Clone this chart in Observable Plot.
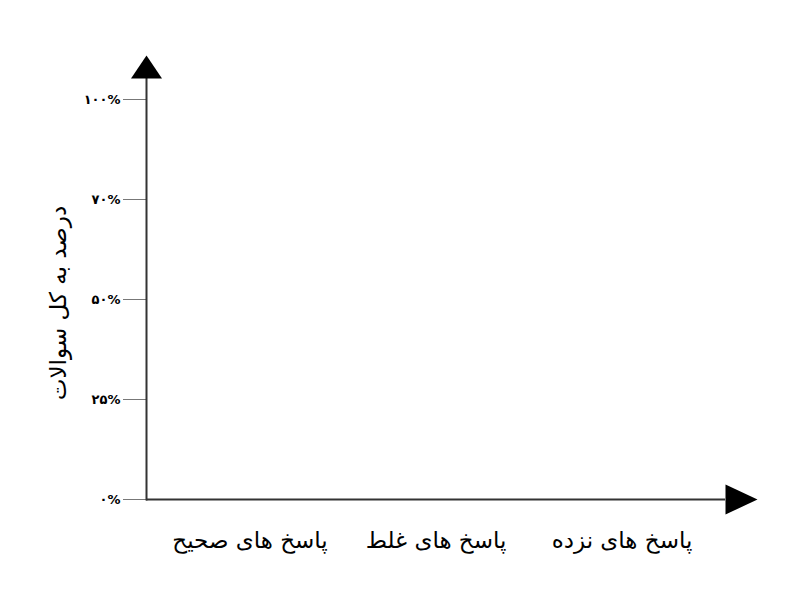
<!DOCTYPE html>
<html><head><meta charset="utf-8">
<script src="https://cdn.jsdelivr.net/npm/d3@7"></script>
<script src="https://cdn.jsdelivr.net/npm/@observablehq/plot@0.6"></script>
<style>body{margin:0;background:#fff} svg{font-family:"DejaVu Sans"}</style>
</head><body><div id="chart"></div>
<script>
const categories = ["پاسخ های صحیح", "پاسخ های غلط", "پاسخ های نزده"];
const yTickValues = [0, 1, 2, 3, 4];
const yTickLabels = ["۰%", "۲۵%", "۵۰%", "۷۰%", "۱۰۰%"];
const yLabel = "درصد به کل سوالات";

const arrowUp = {draw(ctx) { ctx.moveTo(0, -23); ctx.lineTo(15.5, 0); ctx.lineTo(-15.5, 0); ctx.closePath(); }};
const arrowRight = {draw(ctx) { ctx.moveTo(32, 0); ctx.lineTo(0, -15); ctx.lineTo(0, 15); ctx.closePath(); }};

const chart = Plot.plot({
  width: 800, height: 600,
  marginLeft: 146, marginRight: 75, marginTop: 78, marginBottom: 101,
  style: {fontFamily: "DejaVu Sans", background: "#fff", color: "#000"},
  x: {type: "band", domain: categories},
  y: {domain: [0, 4.21]},
  marks: [
    Plot.axisY({ticks: yTickValues, tickFormat: i => yTickLabels[i], tickSize: 23, tickPadding: 3, fontSize: 13, fontWeight: "bold", stroke: "#777", fill: "#000", label: null}),
    Plot.axisX({tickSize: 0, tickPadding: 32, fontSize: 23, fill: "#000", label: null}),
    Plot.text([yLabel], {frameAnchor: "left", textAnchor: "middle", dx: -88, dy: 14, rotate: -90, fontSize: 23, fill: "#000"}),
    Plot.ruleY([0], {stroke: "#333", strokeWidth: 2}),
    Plot.frame({anchor: "left", stroke: "#333", strokeWidth: 2}),
    Plot.dot([0], {frameAnchor: "top-left", symbol: arrowUp, fill: "#000", stroke: "none"}),
    Plot.dot([0], {frameAnchor: "bottom-right", symbol: arrowRight, fill: "#000", stroke: "none"})
  ]
});
document.getElementById("chart").append(chart);
</script></body></html>
